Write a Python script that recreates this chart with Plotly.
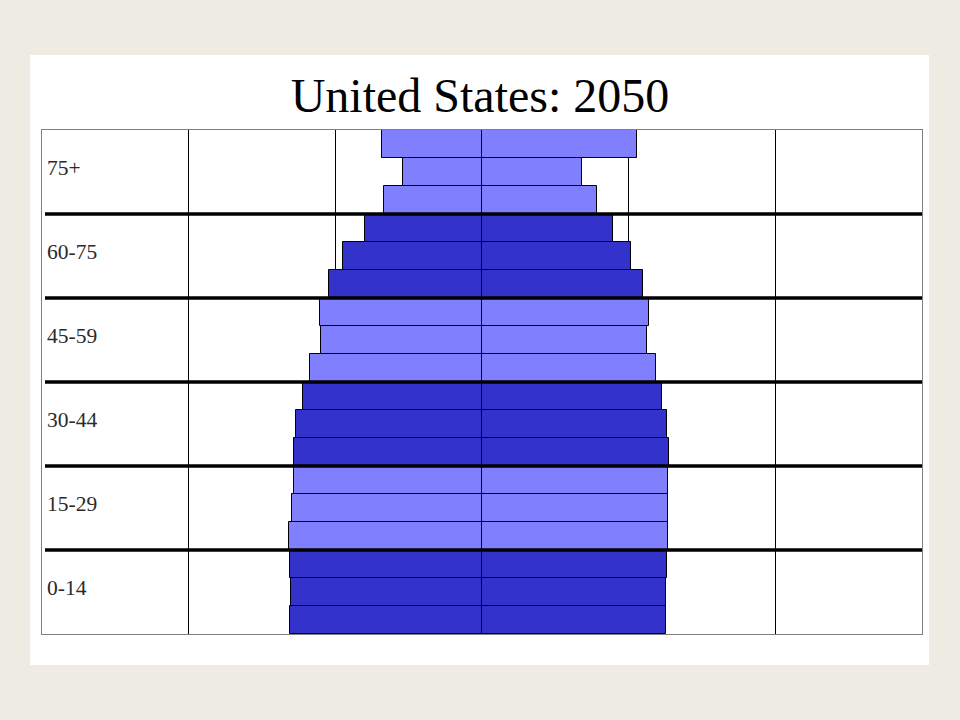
import plotly.graph_objects as go

# Five-year age bands, bottom (youngest) to top (oldest)
age_bands = ["0-4", "5-9", "10-14", "15-19", "20-24", "25-29", "30-34", "35-39",
             "40-44", "45-49", "50-54", "55-59", "60-64", "65-69", "70-74",
             "75-79", "80-84", "85+"]
# Left side (male) and right side (female) values, same order
male = [1.309, 1.302, 1.309, 1.316, 1.295, 1.282, 1.282, 1.268, 1.220,
        1.173, 1.098, 1.105, 1.043, 0.948, 0.795, 0.668, 0.539, 0.682]
female = [1.255, 1.255, 1.261, 1.268, 1.268, 1.268, 1.275, 1.264, 1.227,
          1.186, 1.125, 1.139, 1.098, 1.016, 0.893, 0.784, 0.682, 1.060]
# Broad groups (each spans three bands)
group_labels = ["0-14", "15-29", "30-44", "45-59", "60-75", "75+"]
bands_per_group = 3
title_text = "United States: 2050"

DARK = "#3333CC"
LIGHT = "#8080FF"
BG = "#EEEBE2"
colors = [DARK if (i // bands_per_group) % 2 == 0 else LIGHT for i in range(len(age_bands))]

fig = go.Figure()
fig.add_trace(go.Bar(
    y=age_bands, x=[-v for v in male], orientation="h",
    marker=dict(color=colors, line=dict(color="black", width=1)),
    showlegend=False, hoverinfo="skip"))
fig.add_trace(go.Bar(
    y=age_bands, x=female, orientation="h",
    marker=dict(color=colors, line=dict(color="black", width=1)),
    showlegend=False, hoverinfo="skip"))

W, H = 960, 720
L, R, T, B = 42, 922, 130, 634
pw, ph = R - L, B - T

def px_x(px):
    return (px - L) / pw

def px_y(py):
    return (B - py) / ph

shapes = [
    # white slide panel
    dict(type="rect", xref="paper", yref="paper",
         x0=px_x(30), x1=px_x(929), y0=px_y(665), y1=px_y(55),
         fillcolor="white", line=dict(width=0), layer="below"),
]
# thick separators between broad groups
for g in range(1, len(group_labels)):
    yb = g * bands_per_group - 0.5
    shapes.append(dict(type="line", xref="paper", yref="y",
                       x0=px_x(45), x1=1.0, y0=yb, y1=yb,
                       line=dict(color="black", width=3.5), layer="above"))

annotations = []
for g, lab in enumerate(group_labels):
    mid = age_bands[g * bands_per_group + 1]
    annotations.append(dict(text=lab, xref="paper", yref="y", x=px_x(45), y=mid,
                            xanchor="left", yanchor="middle", yshift=4, showarrow=False,
                            font=dict(family="Liberation Serif, Times New Roman, serif",
                                      size=21.5, color="#2a2a2a")))

fig.update_layout(
    width=W, height=H,
    margin=dict(l=L, r=W - R, t=T, b=H - B, pad=0),
    paper_bgcolor=BG, plot_bgcolor="white",
    barmode="relative", bargap=0,
    title=dict(text=title_text, x=0.5, xanchor="center", y=1 - 95 / H, yanchor="middle",
               font=dict(family="Liberation Serif, Times New Roman, serif", size=48, color="black")),
    xaxis=dict(range=[-3, 3], dtick=1, tick0=0, showgrid=True, gridcolor="black", gridwidth=1,
               zeroline=False, showticklabels=False, ticks="",
               showline=True, linecolor="#808080", linewidth=1, mirror=True, fixedrange=True),
    yaxis=dict(range=[-0.5, len(age_bands) - 0.5], showgrid=False, showticklabels=False, ticks="",
               zeroline=False, showline=True, linecolor="#808080", linewidth=1, mirror=True,
               fixedrange=True),
    shapes=shapes, annotations=annotations,
)

fig.write_html("out.html", config={"displayModeBar": False},
               post_script="document.body.style.margin='0';document.body.style.background='%s';" % BG)
